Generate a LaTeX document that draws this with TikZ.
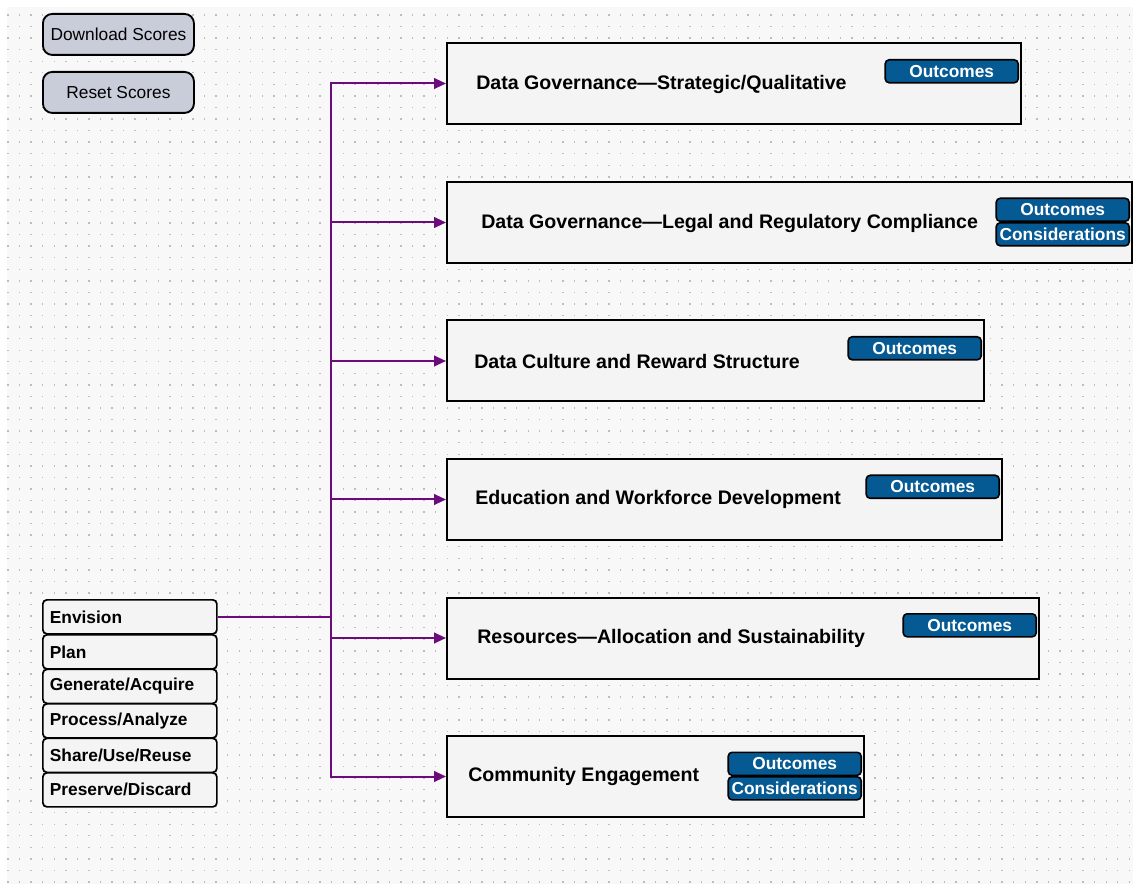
\documentclass[tikz,border=0pt]{standalone}
\usepackage{fontspec}
\setmainfont{Liberation Sans}
\usetikzlibrary{arrows.meta}
\definecolor{bgc}{HTML}{F8F8F8}
\definecolor{dotc}{HTML}{BDBDBD}
\definecolor{boxc}{HTML}{F4F4F4}
\definecolor{btnc}{HTML}{C9CDD9}
\definecolor{badgec}{HTML}{065A94}
\definecolor{linec}{HTML}{6C0C7C}
\tikzset{
  btn/.style={draw=black, line width=1.4pt, fill=btnc, rounded corners=7pt, anchor=north west,
    minimum width=113.25pt, minimum height=30.75pt, inner sep=0pt, font=\fontsize{13pt}{15pt}\selectfont},
  stage/.style={draw=black, line width=1.3pt, fill=boxc, rounded corners=3pt, anchor=north west,
    minimum width=130.5pt, minimum height=25.5pt, inner ysep=0pt, inner xsep=5pt, text width=120pt, align=left,
    font=\bfseries\fontsize{13pt}{15pt}\selectfont},
  mainbox/.style={draw=black, line width=1.5pt, fill=boxc, anchor=north west, inner sep=0pt, minimum height=60.75pt},
  title/.style={anchor=west, inner sep=0pt, font=\bfseries\fontsize{14.7pt}{16pt}\selectfont},
  badge/.style={draw=black, line width=1.2pt, fill=badgec, text=white, rounded corners=3pt, anchor=north east,
    minimum width=99.75pt, minimum height=17.25pt, inner sep=0pt, font=\bfseries\fontsize{13pt}{15pt}\selectfont},
  conn/.style={draw=linec, line width=1.5pt},
  arr/.style={conn, -{Triangle[length=9pt,width=8pt]}},
}
\begin{document}
\begin{tikzpicture}[x=0.75pt,y=-0.75pt]
\useasboundingbox (0,0) rectangle (1133,884);
\fill[white] (0,0) rectangle (1133,884);
\fill[bgc] (7,7) rectangle (1133,884);
\foreach \i in {0,...,97}{
  \foreach \j in {0,...,75}{
    \fill[dotc] ({8+11.56*\i-0.7},{15+11.56*\j-0.7}) rectangle ++(1.4,1.4);
  }
}
% buttons
\node[btn] (dl) at (42,13) {Download Scores};
\node[btn] (rs) at (42,71) {Reset Scores};
% stages
\node[stage] (s1) at (42,599) {Envision};
\node[stage] (s2) at (42,634) {Plan};
\node[stage] (s3) at (42,668.5) {Generate/Acquire};
\node[stage] (s4) at (42,703) {Process/Analyze};
\node[stage] (s5) at (42,737.5) {Share/Use/Reuse};
\node[stage] (s6) at (42,772) {Preserve/Discard};
% main boxes
\node[mainbox, minimum width=430.5pt] (b1) at (446,42) {};
\node[mainbox, minimum width=513.75pt] (b2) at (446,181) {};
\node[mainbox, minimum width=402.75pt] (b3) at (446,319.5) {};
\node[mainbox, minimum width=416.25pt] (b4) at (446,458) {};
\node[mainbox, minimum width=444pt] (b5) at (446,596.5) {};
\node[mainbox, minimum width=312.75pt] (b6) at (446,735) {};
% titles
\node[title] (t1) at (476,84) {Data Governance—Strategic/Qualitative};
\node[title] (t2) at (481,223) {Data Governance—Legal and Regulatory Compliance};
\node[title] (t3) at (474,361) {Data Culture and Reward Structure};
\node[title] (t4) at (475,499) {Education and Workforce Development};
\node[title] (t5) at (477,638) {Resources—Allocation and Sustainability};
\node[title] (t6) at (468,776) {Community Engagement};
% badges
\node[badge] (o1) at (1019,59) {Outcomes};
\node[badge] (o2) at (1130,197.5) {Outcomes};
\node[badge] (c2) at (1130,222) {Considerations};
\node[badge] (o3) at (982,336) {Outcomes};
\node[badge] (o4) at (1000,474.5) {Outcomes};
\node[badge] (o5) at (1037,613) {Outcomes};
\node[badge] (o6) at (862,751.5) {Outcomes};
\node[badge] (c6) at (862,776) {Considerations};
% connectors
\coordinate (jx) at (331,0);
\coordinate (j) at (s1.east -| jx);
\draw[conn] (s1.east) -- (j);
\foreach \b in {b1,b2,b3,b4,b5,b6}{
  \draw[arr] (j) |- (\b.west);
}
\end{tikzpicture}
\end{document}
